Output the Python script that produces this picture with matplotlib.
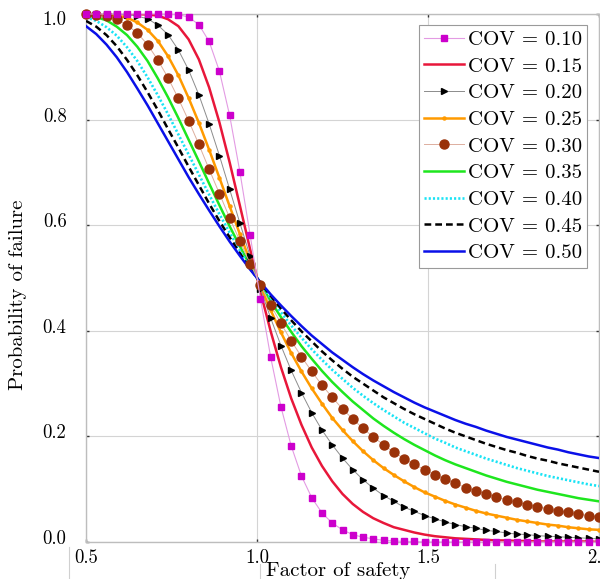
import matplotlib
matplotlib.use('Agg')
import matplotlib.pyplot as plt
import matplotlib.transforms as mtransforms
from matplotlib.lines import Line2D

plt.rcParams['font.family'] = ['cmr10', 'DejaVu Serif']
plt.rcParams['mathtext.fontset'] = 'cm'
plt.rcParams['axes.formatter.use_mathtext'] = True

# factor of safety (x) - sampled every 0.03
fs = [0.50, 0.53, 0.56, 0.59, 0.62, 0.65, 0.68, 0.71, 0.74, 0.77,
      0.80, 0.83, 0.86, 0.89, 0.92, 0.95, 0.98, 1.01, 1.04, 1.07,
      1.10, 1.13, 1.16, 1.19, 1.22, 1.25, 1.28, 1.31, 1.34, 1.37,
      1.40, 1.43, 1.46, 1.49, 1.52, 1.55, 1.58, 1.61, 1.64, 1.67,
      1.70, 1.73, 1.76, 1.79, 1.82, 1.85, 1.88, 1.91, 1.94, 1.97, 2.00]

labels = ['COV = 0.10', 'COV = 0.15', 'COV = 0.20', 'COV = 0.25', 'COV = 0.30',
          'COV = 0.35', 'COV = 0.40', 'COV = 0.45', 'COV = 0.50']

# probability of failure, one list per COV
pf_010 = [1.000, 1.000, 1.000, 1.000, 1.000, 1.000, 1.000, 1.000, 1.000, 0.999,
          0.994, 0.980, 0.948, 0.892, 0.808, 0.701, 0.581, 0.461, 0.350, 0.256,
          0.182, 0.125, 0.084, 0.055, 0.036, 0.023, 0.014, 0.009, 0.006, 0.003,
          0.002, 0.001, 0.001, 0.000, 0.000, 0.000, 0.000, 0.000, 0.000, 0.000,
          0.000, 0.000, 0.000, 0.000, 0.000, 0.000, 0.000, 0.000, 0.000, 0.000, 0.000]
pf_015 = [1.000, 1.000, 1.000, 1.000, 1.000, 1.000, 0.999, 0.997, 0.990, 0.977,
          0.952, 0.914, 0.861, 0.795, 0.719, 0.637, 0.554, 0.474, 0.399, 0.331,
          0.272, 0.222, 0.179, 0.144, 0.115, 0.091, 0.072, 0.057, 0.045, 0.036,
          0.028, 0.023, 0.018, 0.014, 0.011, 0.009, 0.007, 0.006, 0.005, 0.004,
          0.003, 0.003, 0.002, 0.002, 0.001, 0.001, 0.001, 0.001, 0.001, 0.001, 0.000]
pf_020 = [1.000, 1.000, 1.000, 1.000, 0.999, 0.996, 0.991, 0.979, 0.961, 0.932,
          0.894, 0.847, 0.792, 0.732, 0.668, 0.604, 0.541, 0.480, 0.424, 0.372,
          0.325, 0.283, 0.245, 0.212, 0.184, 0.159, 0.137, 0.118, 0.102, 0.088,
          0.077, 0.066, 0.058, 0.050, 0.044, 0.038, 0.033, 0.029, 0.026, 0.022,
          0.020, 0.017, 0.015, 0.014, 0.012, 0.011, 0.010, 0.009, 0.008, 0.007, 0.006]
pf_025 = [1.000, 1.000, 0.999, 0.997, 0.993, 0.984, 0.970, 0.949, 0.920, 0.884,
          0.841, 0.794, 0.743, 0.690, 0.636, 0.583, 0.532, 0.484, 0.439, 0.397,
          0.358, 0.323, 0.291, 0.262, 0.235, 0.212, 0.191, 0.172, 0.155, 0.140,
          0.127, 0.115, 0.104, 0.094, 0.086, 0.078, 0.071, 0.065, 0.059, 0.054,
          0.050, 0.046, 0.042, 0.039, 0.036, 0.033, 0.031, 0.028, 0.026, 0.024, 0.023]
pf_030 = [1.000, 0.998, 0.996, 0.990, 0.979, 0.964, 0.942, 0.913, 0.879, 0.840,
          0.798, 0.753, 0.706, 0.660, 0.614, 0.570, 0.527, 0.487, 0.449, 0.414,
          0.381, 0.351, 0.323, 0.297, 0.274, 0.252, 0.233, 0.215, 0.199, 0.184,
          0.170, 0.158, 0.147, 0.137, 0.127, 0.119, 0.111, 0.103, 0.097, 0.091,
          0.085, 0.080, 0.075, 0.071, 0.067, 0.063, 0.059, 0.056, 0.053, 0.050, 0.048]
pf_035 = [0.998, 0.994, 0.988, 0.976, 0.960, 0.938, 0.911, 0.878, 0.842, 0.803,
          0.762, 0.721, 0.679, 0.638, 0.598, 0.560, 0.523, 0.489, 0.456, 0.426,
          0.398, 0.371, 0.347, 0.324, 0.303, 0.284, 0.266, 0.250, 0.234, 0.220,
          0.207, 0.195, 0.184, 0.174, 0.164, 0.155, 0.147, 0.140, 0.133, 0.126,
          0.120, 0.114, 0.109, 0.104, 0.099, 0.095, 0.091, 0.087, 0.083, 0.080, 0.077]
pf_040 = [0.994, 0.987, 0.975, 0.959, 0.937, 0.911, 0.880, 0.846, 0.810, 0.772,
          0.734, 0.696, 0.658, 0.621, 0.586, 0.552, 0.520, 0.490, 0.462, 0.435,
          0.410, 0.387, 0.365, 0.345, 0.326, 0.309, 0.292, 0.277, 0.263, 0.250,
          0.238, 0.226, 0.216, 0.206, 0.196, 0.188, 0.179, 0.172, 0.165, 0.158,
          0.152, 0.146, 0.140, 0.135, 0.130, 0.125, 0.121, 0.117, 0.113, 0.109, 0.106]
pf_045 = [0.987, 0.976, 0.960, 0.939, 0.913, 0.884, 0.852, 0.818, 0.782, 0.747,
          0.711, 0.676, 0.641, 0.608, 0.577, 0.547, 0.518, 0.491, 0.466, 0.442,
          0.420, 0.399, 0.380, 0.361, 0.344, 0.328, 0.313, 0.300, 0.287, 0.274,
          0.263, 0.252, 0.242, 0.233, 0.224, 0.215, 0.207, 0.200, 0.193, 0.186,
          0.180, 0.174, 0.169, 0.163, 0.158, 0.154, 0.149, 0.145, 0.141, 0.137, 0.133]
pf_050 = [0.977, 0.962, 0.942, 0.918, 0.890, 0.859, 0.827, 0.793, 0.759, 0.725,
          0.691, 0.659, 0.628, 0.598, 0.569, 0.542, 0.516, 0.492, 0.469, 0.448,
          0.428, 0.409, 0.391, 0.375, 0.359, 0.345, 0.331, 0.318, 0.306, 0.295,
          0.284, 0.274, 0.264, 0.255, 0.247, 0.239, 0.231, 0.224, 0.218, 0.211,
          0.205, 0.199, 0.194, 0.189, 0.184, 0.179, 0.175, 0.170, 0.166, 0.162, 0.159]

fig = plt.figure(figsize=(6, 5.79), dpi=100)
ax = fig.add_axes([86/600, 37/579, 513/600, 528/579])

ax.plot(fs, pf_010, color='#E39BE3', lw=0.8, marker='s', ms=5, mfc='#CC00CC', mec='#CC00CC',
        clip_on=False, zorder=6, label=labels[0])
ax.plot(fs, pf_015, color='#E8173A', lw=1.8, zorder=3, label=labels[1])
ax.plot(fs, pf_020, color='#8C8C8C', lw=0.7, marker='>', ms=5, mfc='k', mec='k',
        clip_on=False, zorder=4, label=labels[2])
ax.plot(fs, pf_025, color='#FF9A00', lw=1.8, marker='o', ms=2.2, zorder=3, label=labels[3])
ax.plot(fs, pf_030, color='#DDAE9E', lw=0.7, marker='o', ms=6.5, mfc='#9A3209', mec='#9A3209',
        clip_on=False, zorder=4, label=labels[4])
ax.plot(fs, pf_035, color='#1EE61E', lw=1.8, zorder=3, label=labels[5])
ax.plot(fs, pf_040, color='#19E3F5', lw=1.9, dashes=(0.8, 0.8), zorder=3, label=labels[6])
ax.plot(fs, pf_045, color='k', lw=1.8, dashes=(2.7, 1.6), zorder=3, label=labels[7])
ax.plot(fs, pf_050, color='#0A10E8', lw=1.8, zorder=3, label=labels[8])

ax.set_xlim(0.5, 2.0)
ax.set_ylim(0.0, 1.0)
ax.set_xticks([0.5, 1.0, 1.5, 2.0])
ax.set_yticks([0.0, 0.2, 0.4, 0.6, 0.8, 1.0])
ax.set_xticklabels(['0.5', '1.0', '1.5', '2.0'])
ax.set_yticklabels(['0.0', '0.2', '0.4', '0.6', '0.8', '1.0'])
ax.grid(True, color='#d4d4d4', lw=0.8)
for s in ax.spines.values():
    s.set_color('#bdbdbd')
    s.set_linewidth(1.0)
ax.tick_params(direction='in', length=2.5, width=1, color='#333333', top=True, right=True,
               labelsize=13.5)
ax.tick_params(axis='y', pad=14)
ax.tick_params(axis='x', pad=5)

# y tick labels sit a little off their grid lines in the original
up = mtransforms.ScaledTranslation(0, 0.05, fig.dpi_scale_trans)
down = mtransforms.ScaledTranslation(0, -0.045, fig.dpi_scale_trans)
for lbl in ax.get_yticklabels():
    off = down if lbl.get_text() == '1.0' else up
    lbl.set_transform(lbl.get_transform() + off)

leg = ax.legend(loc='upper right', bbox_to_anchor=(587/600, 1 - 25/579),
                bbox_transform=fig.transFigure, fontsize=15, handlelength=1.92,
                handletextpad=0.15, labelspacing=0.39, borderpad=0.25, borderaxespad=0,
                fancybox=False, edgecolor='#9a9a9a', framealpha=1)
leg.get_frame().set_linewidth(0.8)
leg.set_zorder(10)

fig.text(18/600, 1 - 295/579, 'Probability of failure', rotation=90, ha='center',
         va='center', fontsize=15)
fig.text(338/600, 1 - 571/579, 'Factor of safety', ha='center', va='center', fontsize=15)

# faint vertical rules below the axis, as in the source image
for xp, ytop in [(69, 547), (260, 564), (495, 564)]:
    fig.add_artist(Line2D([xp/600, xp/600], [0, 1 - ytop/579], transform=fig.transFigure,
                          color='#d0d0d0', lw=0.8))

fig.savefig('out.png', dpi=100)
